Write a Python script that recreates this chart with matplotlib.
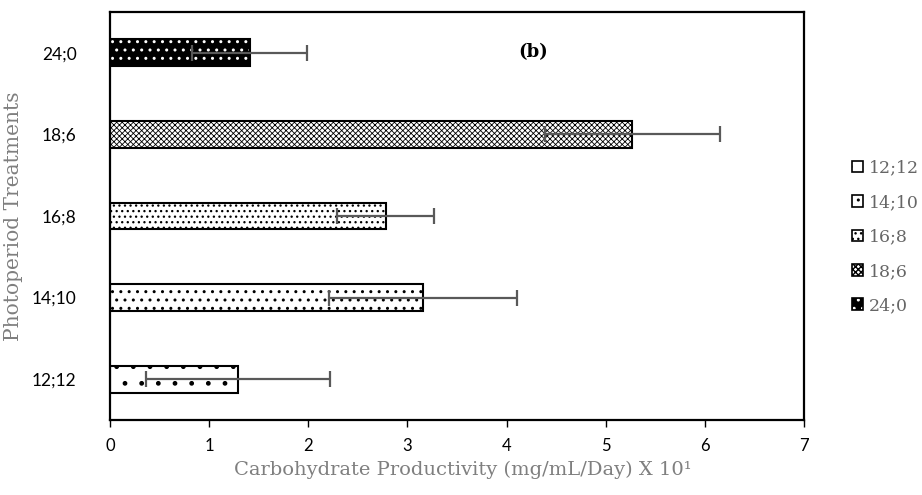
import numpy as np
import matplotlib.pyplot as plt
from matplotlib.patches import Patch

# photoperiod (light;dark hours) and carbohydrate productivity, mg/mL/day x 10^1
treatments = ['12;12', '14;10', '16;8', '18;6', '24;0']
productivity = [1.29, 3.16, 2.78, 5.27, 1.41]
std_err = [0.93, 0.95, 0.49, 0.88, 0.58]

bar_hatch = {'12;12': '.', '14;10': '..', '16;8': '...', '18;6': 'xxxxxx', '24;0': '..'}
hatch_lw = {'12;12': 1.0, '14;10': 1.0, '16;8': 0.9, '18;6': 0.6, '24;0': 1.0}

title_gray = '#7f7f7f'
legend_gray = '#666666'

fig = plt.figure(figsize=(9.22, 4.95), dpi=100)
ax = fig.add_axes([110 / 922, 1 - 420 / 495, 694 / 922, 408 / 495])

y_pos = np.arange(len(treatments))
bar_h = 0.33
handles = []
for i, name in enumerate(treatments):
    with plt.rc_context({'hatch.linewidth': hatch_lw[name]}):
        if name == '24;0':
            # black bar with white dots
            ax.barh(i, productivity[i], height=bar_h, color='black', edgecolor='white',
                    hatch=bar_hatch[name], linewidth=0)
            ax.barh(i, productivity[i], height=bar_h, fill=False, edgecolor='black',
                    linewidth=1.5)
            handles.append((Patch(facecolor='black', edgecolor='white', hatch='..',
                                  linewidth=0),
                            Patch(fill=False, edgecolor='black', linewidth=1.2)))
        else:
            ax.barh(i, productivity[i], height=bar_h, color='white', edgecolor='black',
                    hatch=bar_hatch[name], linewidth=1.5)
            handles.append(Patch(facecolor='white', edgecolor='black',
                                 hatch=bar_hatch[name], linewidth=1.2))

ax.errorbar(productivity, y_pos, xerr=std_err, fmt='none', ecolor='#595959',
            elinewidth=1.6, capsize=6, capthick=1.6)

ax.set_xlim(0, 7)
ax.set_ylim(-0.5, 4.5)
ax.set_xticks(range(8))
ax.set_yticks(y_pos)
ax.set_yticklabels(treatments)
for s in ax.spines.values():
    s.set_linewidth(1.6)
    s.set_color('black')
ax.tick_params(axis='x', direction='out', length=5, width=1, pad=8, labelsize=12)
ax.tick_params(axis='y', length=0, pad=24, labelsize=12.5)
for lab in ax.get_xticklabels() + ax.get_yticklabels():
    lab.set_fontfamily('Lato')

ax.set_xlabel('Carbohydrate Productivity (mg/mL/Day) X 10¹', family='DejaVu Serif',
              fontsize=14, color=title_gray, va='center')
ax.xaxis.set_label_coords(0.508, -50 / 408)
ax.set_ylabel('Photoperiod Treatments', family='DejaVu Serif', fontsize=14.5,
              color=title_gray, va='center')
ax.yaxis.set_label_coords(-97 / 694, 0.5)

ax.text(0.61, 0.902, '(b)', transform=ax.transAxes, ha='center', va='center',
        family='DejaVu Serif', fontweight='bold', fontsize=13)

fig.legend(handles, treatments, loc='center left', bbox_to_anchor=(836 / 922, 1 - 237 / 495),
           frameon=False, prop={'family': 'DejaVu Serif', 'size': 12.5},
           labelcolor=legend_gray, handlelength=0.65, handleheight=0.65,
           handletextpad=0.35, labelspacing=1.0)

fig.savefig('out.png', dpi=100)
